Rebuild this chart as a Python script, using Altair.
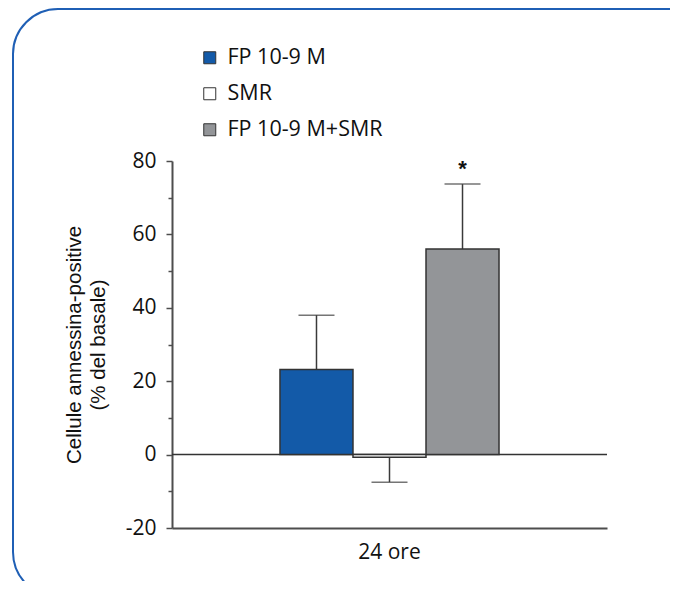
import altair as alt
import pandas as pd

# ---- data ----
groups = ["FP 10-9 M", "SMR", "FP 10-9 M+SMR"]
means = [23.2, -0.7, 56.0]
err_tops = [38.0, -7.5, 73.7]
sig_marks = ["", "", "*"]
time_labels = ["24 ore", "24 ore", "24 ore"]
bar_colors = ["#135aa8", "#ffffff", "#939598"]
y_tick_values = [-20, -10, 0, 10, 20, 30, 40, 50, 60, 70, 80]
y_title = ["Cellule annessina-positive", "(% del basale)"]

df = pd.DataFrame({
    "time": time_labels,
    "group": groups,
    "mean": means,
    "err": err_tops,
    "sig": sig_marks,
})

AX = "#4d4d4d"

x_enc = alt.X(
    "time:N",
    scale=alt.Scale(paddingInner=0, paddingOuter=0.493),
    axis=alt.Axis(
        title=None, ticks=False, labelAngle=0, labelFont="Open Sans",
        labelFontSize=21, labelColor="#111", labelPadding=13,
        domainColor=AX, domainWidth=2,
    ),
)
xo_enc = alt.XOffset("group:N", sort=groups,
                     scale=alt.Scale(paddingInner=0, paddingOuter=0))
y_scale = alt.Scale(domain=[-20, 80], nice=False, zero=False)

y_axis = alt.Axis(
    values=y_tick_values,
    labelExpr="datum.value % 20 === 0 ? toString(datum.value) : ''",
    tickSize={"condition": {"test": "datum.value % 20 === 0", "value": 6}, "value": 4},
    tickColor=AX, tickWidth=1.5, domainColor=AX, domainWidth=2, grid=False,
    labelFont="Open Sans", labelFontSize=21, labelColor="#111", labelPadding=10,
    title=y_title, titleFont="Liberation Sans", titleFontSize=20.5,
    titleFontWeight="normal", titleColor="#111", titlePadding=17,
    titleLineHeight=24,
)

base = alt.Chart(df)

border = alt.Chart(pd.DataFrame({"k": [0]})).mark_rect(
    fill="transparent", stroke="#1f5fb5", strokeWidth=2, cornerRadius=45
).encode(
    x=alt.value(-159), x2=alt.value(620),
    y=alt.value(-152), y2=alt.value(436),
)

zero_rule = alt.Chart(pd.DataFrame({"z": [0]})).mark_rule(
    color="#333", strokeWidth=1.5
).encode(y=alt.Y("z:Q", scale=y_scale, axis=y_axis))

err_rule = base.mark_rule(color="#3a3a3a", strokeWidth=1.5).encode(
    x=x_enc, xOffset=xo_enc,
    y=alt.Y("mean:Q", scale=y_scale, axis=y_axis), y2="err:Q",
)

err_cap = base.mark_tick(color="#3a3a3a", thickness=1.5, size=36).encode(
    x=x_enc, xOffset=xo_enc,
    y=alt.Y("err:Q", scale=y_scale, axis=y_axis),
)

bars = base.mark_bar(stroke="#333", strokeWidth=1.5).encode(
    x=x_enc, xOffset=xo_enc,
    y=alt.Y("mean:Q", scale=y_scale, axis=y_axis), y2=alt.datum(0),
    fill=alt.Fill(
        "group:N", sort=groups,
        scale=alt.Scale(domain=groups, range=bar_colors),
        legend=alt.Legend(
            title=None, orient="none", legendX=27, legendY=-114,
            symbolType="square", symbolSize=144, symbolStrokeColor="#333",
            symbolStrokeWidth=1, symbolOpacity=1, labelFont="Open Sans",
            labelFontSize=21.5, labelColor="#111", labelOffset=7,
            rowPadding=13, padding=0, labelLimit=300,
        ),
    ),
)

stars = base.mark_text(
    font="Liberation Sans", fontSize=22, fontWeight="bold", color="#111",
    baseline="middle", dy=-15,
).encode(
    x=x_enc, xOffset=xo_enc,
    y=alt.Y("err:Q", scale=y_scale, axis=y_axis),
    text="sig:N",
)

chart = alt.layer(border, zero_rule, err_rule, bars, err_cap, stars).properties(
    width=435, height=367, autosize="none",
    padding={"left": 164, "top": 153, "right": 63, "bottom": 53},
    background="white",
).configure_view(stroke=None)

chart.save("out.html", embed_options={"renderer": "svg", "actions": False})
